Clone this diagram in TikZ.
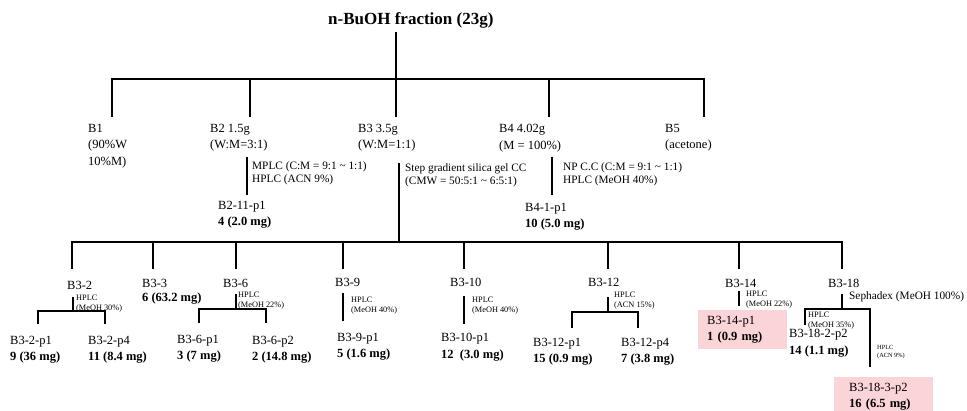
\documentclass[tikz,border=0pt]{standalone}
\usepackage{fontspec}
\setmainfont{Liberation Serif}
\usepackage{xcolor}
\usepackage{tikz}
\definecolor{hitpink}{RGB}{251,212,215}

\begin{document}
\begin{tikzpicture}[x=1pt, y=-1pt,
    lbl/.style={inner sep=0pt, anchor=north west, align=left,
                font=\fontsize{12.5}{16.5}\selectfont},
    cond/.style={inner sep=0pt, anchor=north west, align=left,
                 font=\fontsize{11.3}{13.5}\selectfont},
    tiny/.style={inner sep=0pt, anchor=north west, align=left,
                 font=\fontsize{8.3}{10}\selectfont},
    tinier/.style={tiny, font=\fontsize{6.3}{8.5}\selectfont},
    hit/.style={lbl, fill=hitpink, inner xsep=#1, inner ysep=0pt, minimum height=39pt},
    link/.style={line width=2.2pt},
    sub/.style={line width=1.8pt}
]
\useasboundingbox (0,0) rectangle (967,411);

\node[lbl, font=\fontsize{17}{20}\selectfont\bfseries] (title) at (328,12) {n-BuOH fraction (23g)};
\node[lbl] (b1) at (88,124)  {B1\\(90\%W\\10\%M)};
\node[lbl] (b2) at (210,124) {B2 1.5g\\(W:M=3:1)};
\node[lbl] (b3) at (358,124) {B3 3.5g\\(W:M=1:1)};
\node[lbl] (b4) at (499,124) {B4 4.02g\\(M = 100\%)};
\node[lbl] (b5) at (665,124) {B5\\(acetone)};

\node[cond] (b2c) at (252,161) {MPLC (C:M = 9:1 \textasciitilde{} 1:1)\\HPLC (ACN 9\%)};
\node[lbl]  (b2p) at (218,201) {B2-11-p1\\\textbf{4 (2.0 mg)}};
\node[cond] (b3c) at (405,163) {Step gradient silica gel CC\\(CMW = 50:5:1 \textasciitilde{} 6:5:1)};
\node[cond] (b4c) at (563,162) {NP C.C (C:M = 9:1 \textasciitilde{} 1:1)\\HPLC (MeOH 40\%)};
\node[lbl]  (b4p) at (525,203) {B4-1-p1\\\textbf{10 (5.0 mg)}};

\node[lbl]  (b32)   at (67,281)  {B3-2};
\node[tiny] (b32c)  at (76,295)  {HPLC\\(MeOH 30\%)};
\node[lbl]  (b32p1) at (10,336)  {B3-2-p1\\\textbf{9 (36 mg)}};
\node[lbl]  (b32p4) at (88,336)  {B3-2-p4\\\textbf{11 (8.4 mg)}};
\node[lbl, font=\fontsize{12.5}{14.5}\selectfont] (b33) at (142,279) {B3-3\\\textbf{6 (63.2 mg)}};
\node[lbl]  (b36)   at (223,279) {B3-6};
\node[tiny] (b36c)  at (238,292) {HPLC\\(MeOH 22\%)};
\node[lbl]  (b36p1) at (177,335) {B3-6-p1\\\textbf{3 (7 mg)}};
\node[lbl]  (b36p2) at (252,336) {B3-6-p2\\\textbf{2 (14.8 mg)}};
\node[lbl]  (b39)   at (335,278) {B3-9};
\node[tiny] (b39c)  at (351,297) {HPLC\\(MeOH 40\%)};
\node[lbl]  (b39p)  at (337,333) {B3-9-p1\\\textbf{5 (1.6 mg)}};
\node[lbl]  (b310)  at (450,278) {B3-10};
\node[tiny] (b310c) at (472,297) {HPLC\\(MeOH 40\%)};
\node[lbl]  (b310p) at (441,333) {B3-10-p1\\\textbf{12\ \ (3.0 mg)}};
\node[lbl]  (b312)  at (588,278) {B3-12};
\node[tiny] (b312c) at (614,292) {HPLC\\(ACN 15\%)};
\node[lbl]  (b312p1) at (533,338) {B3-12-p1\\\textbf{15 (0.9 mg)}};
\node[lbl]  (b312p4) at (621,338) {B3-12-p4\\\textbf{7 (3.8 mg)}};
\node[lbl]  (b314)  at (725,279) {B3-14};
\node[tiny] (b314c) at (746,291) {HPLC\\(MeOH 22\%)};
\node[hit=9pt, text width=71pt] (b314p) at (698,310) {B3-14-p1\\\textbf{1 (0.9 mg)}};
\node[lbl]  (b318)  at (828,279) {B3-18};
\node[cond] (b318c) at (849,291) {Sephadex (MeOH 100\%)};
\node[tiny] (b3182c) at (808,312) {HPLC\\(MeOH 35\%)};
\node[lbl]  (b3182p) at (789,329) {B3-18-2-p2\\\textbf{14 (1.1 mg)}};
\node[tinier] (b3183c) at (877,345) {HPLC\\(ACN 9\%)};
\node[hit=15pt, text width=69pt] (b3183p) at (834,377) {B3-18-3-p2\\\textbf{16 (6.5 mg)}};

\coordinate (root) at (396,32);
\coordinate (hub)  at (396,79);
\coordinate (d1) at (112,117);
\coordinate (d2) at (250,117);
\coordinate (d3) at (396,117);
\coordinate (d4) at (549,117);
\coordinate (d5) at (704,117);
\draw[link] (root) -- (d3);
\draw[link] (d1) |- (hub) -| (d5);
\draw[link] (d2) -- (d2 |- hub);
\draw[link] (d4) -- (d4 |- hub);

\coordinate (b2a) at (247,157);
\coordinate (b2b) at (247,195);
\coordinate (b4a) at (552,157);
\coordinate (b4b) at (552,195);
\draw[link] (b2a) -- (b2b);
\draw[link] (b4a) -- (b4b);

\coordinate (root2) at (399,163);
\coordinate (hub2)  at (399,242);
\coordinate (e1) at (72,269);
\coordinate (e2) at (153,269);
\coordinate (e3) at (236,269);
\coordinate (e4) at (343,269);
\coordinate (e5) at (464,269);
\coordinate (e6) at (608,269);
\coordinate (e7) at (739,269);
\coordinate (e8) at (842,269);
\draw[link] (root2) -- (hub2);
\draw[link] (e1) |- (hub2) -| (e8);
\foreach \e in {e2,e3,e4,e5,e6,e7}
  \draw[link] (\e) -- (\e |- hub2);

\coordinate (s2) at (73,297);   \coordinate (k2) at (73,311);
\coordinate (p2a) at (38,324);  \coordinate (p2b) at (105,324);
\draw[sub] (s2) -- (k2);
\draw[sub] (p2a) |- (k2) -| (p2b);

\coordinate (s6) at (236,294);  \coordinate (k6) at (236,309);
\coordinate (p6a) at (199,323); \coordinate (p6b) at (266,323);
\draw[sub] (s6) -- (k6);
\draw[sub] (p6a) |- (k6) -| (p6b);

\coordinate (s9) at (343,293);  \coordinate (k9) at (343,321);
\draw[sub] (s9) -- (k9);
\coordinate (s10) at (464,296); \coordinate (k10) at (464,324);
\draw[sub] (s10) -- (k10);

\coordinate (s12) at (608,297);  \coordinate (k12) at (608,312);
\coordinate (p12a) at (572,328); \coordinate (p12b) at (638,328);
\draw[sub] (s12) -- (k12);
\draw[sub] (p12a) |- (k12) -| (p12b);

\coordinate (s14) at (739,291); \coordinate (k14) at (739,306);
\draw[sub] (s14) -- (k14);

\coordinate (s18) at (842,294);  \coordinate (k18) at (842,309);
\coordinate (p18a) at (805,325); \coordinate (p18b) at (870,367);
\draw[sub] (s18) -- (k18);
\draw[sub] (p18a) |- (k18) -| (p18b);
\end{tikzpicture}
\end{document}
